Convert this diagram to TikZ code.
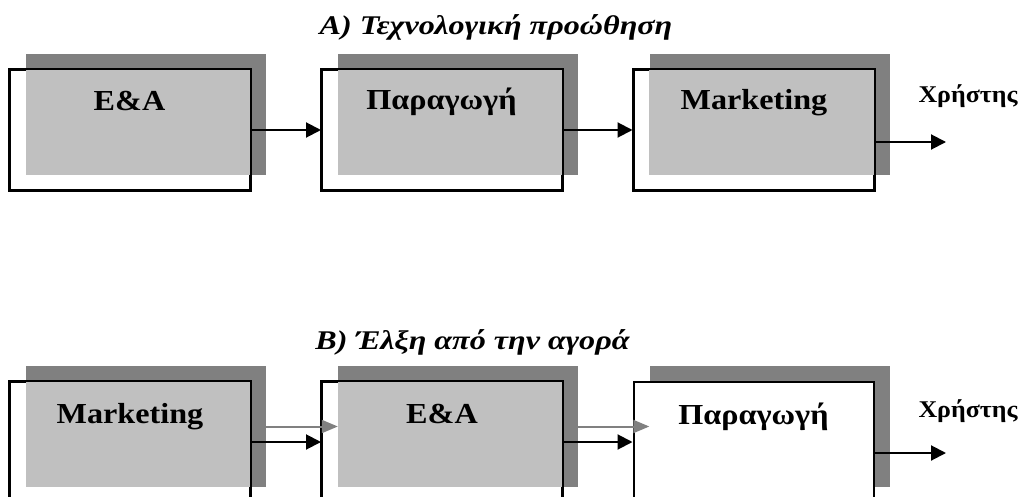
\documentclass[tikz,border=0pt]{standalone}
\usepackage{fontspec}
\setmainfont{Liberation Serif}
\newfontfamily\blockfont[FakeStretch=1.11]{Liberation Serif}
\newfontfamily\userfont[FakeStretch=1.08]{Liberation Serif}
\newfontfamily\headfont[FakeStretch=1.19]{Liberation Serif}
\usetikzlibrary{arrows.meta}
\definecolor{shadowgray}{HTML}{808080}
\definecolor{fillgray}{HTML}{C0C0C0}
\begin{document}
\begin{tikzpicture}[x=1pt,y=-1pt,
  blockbox/.style={draw=black,line width=2pt,minimum width=240pt,minimum height=120pt,inner sep=0pt},
  blockshadow/.style={fill=shadowgray,minimum width=240pt,minimum height=121pt,inner sep=0pt},
  blocklabel/.style={font=\blockfont\fontsize{29}{32}\selectfont\bfseries,inner sep=0pt,anchor=base},
  userlabel/.style={font=\userfont\fontsize{24}{28}\selectfont\bfseries,inner sep=0pt,anchor=base},
  rowtitle/.style={font=\headfont\fontsize{27}{32}\selectfont\bfseries\itshape,inner sep=0pt,anchor=base},
  flow/.style={line width=2pt,-{Triangle[length=15pt,width=15pt]}},
  pull/.style={line width=2pt,shadowgray,-{Triangle[length=16pt,width=13pt]}}]
\useasboundingbox (0,0) rectangle (1022,497);
\clip (0,0) rectangle (1022,497);

% ---------- A) technology push ----------
\node[rowtitle] (ta) at (496,35) {A) Τεχνολογική προώθηση};

\node[blockshadow] (sa1) at (146,114.5) {};
\node[blockshadow] (sa2) at (458,114.5) {};
\node[blockshadow] (sa3) at (769.5,114.5) {};
\node[blockbox] (a1) at (130,130) {};
\node[blockbox] (a2) at (442,130) {};
\node[blockbox] (a3) at (753.5,130) {};
\fill[fillgray] (sa1.west |- a1.north) rectangle (a1.east |- sa1.south);
\fill[fillgray] (sa2.west |- a2.north) rectangle (a2.east |- sa2.south);
\fill[fillgray] (sa3.west |- a3.north) rectangle (a3.east |- sa3.south);
\draw[line width=2pt] (a1.north west) rectangle (a1.south east);
\draw[line width=2pt] (a2.north west) rectangle (a2.south east);
\draw[line width=2pt] (a3.north west) rectangle (a3.south east);

\node[blocklabel] (la1) at (129.5,110.5) {E\&A};
\node[blocklabel] (la2) at (441.5,110) {Παραγωγή};
\node[blocklabel] (la3) at (754,109.5) {Marketing};
\node[userlabel] (ua) at (968,103) {Χρήστης};

\coordinate (ea) at (946,142);
\draw[flow] (a1.east) -- (a2.west);
\draw[flow] (a2.east) -- (a3.west);
\draw[flow] (a3.east |- ea) -- (ea);

% ---------- B) market pull ----------
\node[rowtitle] (tb) at (472.5,349) {B) Έλξη από την αγορά};

\node[blockshadow] (sb1) at (146,426.5) {};
\node[blockshadow] (sb2) at (458,426.5) {};
\node[blockshadow] (sb3) at (769.5,426.5) {};
\node[blockbox] (b1) at (130,442) {};
\node[blockbox] (b2) at (442,442) {};
\node[blockbox,fill=white] (b3) at (753.5,442) {};
\fill[fillgray] (sb1.west |- b1.north) rectangle (b1.east |- sb1.south);
\fill[fillgray] (sb2.west |- b2.north) rectangle (b2.east |- sb2.south);
\draw[line width=2pt] (b1.north west) rectangle (b1.south east);
\draw[line width=2pt] (b2.north west) rectangle (b2.south east);

\node[blocklabel] (lb1) at (130,423) {Marketing};
\node[blocklabel] (lb2) at (442,423) {E\&A};
\node[blocklabel] (lb3) at (753.5,424) {Παραγωγή};
\node[userlabel] (ub) at (968,417) {Χρήστης};

\draw[pull] (sb1.east) -- (sb2.west);
\draw[pull] (sb2.east) -- (sb3.west);
\draw[flow] (b1.east) -- (b2.west);
\draw[flow] (b2.east) -- (b3.west);
\coordinate (eb) at (946,453);
\draw[flow] (b3.east |- eb) -- (eb);
\end{tikzpicture}
\end{document}
